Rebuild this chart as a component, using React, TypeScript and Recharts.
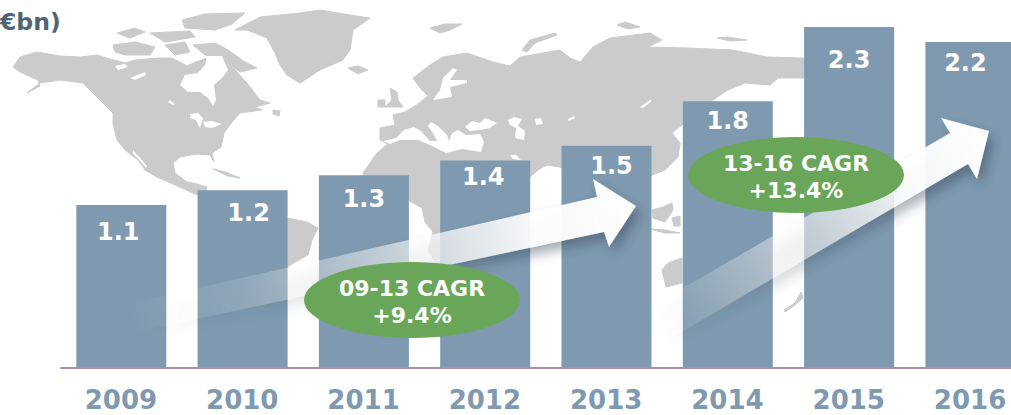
import { BarChart, Bar, XAxis, YAxis, LabelList } from 'recharts';

const YEARS = ['2009', '2010', '2011', '2012', '2013', '2014', '2015', '2016'];
const REVENUE = [1.1, 1.2, 1.3, 1.4, 1.5, 1.8, 2.3, 2.2];

const FONT = '"DejaVu Sans", Verdana, sans-serif';
const BAR_COLOR = '#7f9ab0';
const LAND = '#cbcbcd';
const GREEN = '#6aa659';

// the value labels are not placed consistently in the source, nudge each [dx, dy from bar top]
const LABEL_NUDGE = [[-3, 26], [6, 22], [0, 23], [-2, 16], [5, 20], [0, 19], [0, 32], [-5, 20]];

const data = YEARS.map((year, i) => ({ year, value: REVENUE[i] }));

// rough hand traced world map, only used as backdrop
const LAND_SHAPES = [
  // north america
  '13,67 20,57 37,52 60,56 80,57 97,55 110,59 125,63 135,60 147,59 160,58 172,58 180,62 187,66 196,62 207,58 222,60 235,70 247,83 260,100 270,103 255,107 262,110 240,113 232,122 224,133 221,147 212,153 214,162 210,155 197,154 180,157 173,163 175,173 187,182 197,184 207,187 205,195 197,195 173,184 157,177 145,170 138,160 125,150 117,140 113,123 113,113 97,97 83,83 60,80 40,83 27,93 40,86 38,80 20,72',
  // arctic islands
  '193,45 215,43 228,50 245,62 257,68 240,72 225,62 205,55',
  '113,45 135,42 155,47 150,55 125,55 115,52',
  '117,33 135,28 145,32 130,38',
  '182,20 205,14 245,13 232,24 215,30 185,28',
  '150,33 190,31 195,37 165,42',
  '165,45 185,42 190,52 175,55',
  '273,110 280,111 279,116 273,114',
  '213,169 225,172 240,178 228,176',
  // greenland, iceland, svalbard, uk
  '235,30 260,17 300,13 320,10 350,15 370,18 353,30 350,50 343,60 320,70 300,83 287,75 280,65 275,53 267,38 247,30',
  '348,68 358,66 368,70 358,74',
  '430,28 445,24 462,24 450,30 440,33',
  '390,88 397,92 398,100 403,107 385,107 392,100',
  '378,100 385,100 385,107 378,107',
  // eurasia with africa
  '380,140 380,128 395,125 393,115 405,112 418,104 428,96 420,88 413,78 430,65 443,57 467,53 493,62 510,66 520,57 560,50 570,58 580,62 593,47 610,38 650,33 662,40 648,47 687,48 733,50 767,57 800,58 860,60 860,75 803,78 778,78 770,85 745,83 728,90 713,100 700,110 682,125 672,133 680,143 678,157 665,170 652,175 640,185 600,190 560,167 547,165 538,170 529,178 520,230 500,300 440,300 437,265 428,250 433,232 425,222 422,208 408,200 367,190 363,173 377,153 388,144',
  // south america, only the part beside the 2011 bar shows
  '250,205 287,218 307,222 318,228 312,240 308,255 295,262 287,267 260,310 240,260',
  // islands
  '522,50 530,40 555,33 557,35 535,43 527,52',
  '617,25 625,22 640,27 628,29',
  '717,38 728,37 747,40 730,41',
  '652,210 663,207 672,203 673,210 665,222 653,218',
  '650,229 665,230 680,233 665,233',
  '672,218 680,216 680,226 674,226',
  '682,258 668,263 662,270 666,287 682,283',
  '803,298 795,305 785,312 784,310 795,303 801,292',
];

const WATER_SHAPES = [
  // hudson bay
  '207,56 222,56 228,70 222,78 214,85 216,100 213,106 208,98 200,92 188,92 180,85 185,75 198,73 205,65',
  // lakes and inlets in north america
  '190,114 198,113 203,118 200,128 196,120 190,118',
  '203,122 212,121 222,124 212,128 205,127',
  '115,66 125,64 128,67 118,70',
  '130,78 145,72 146,75 135,80',
  '170,100 175,104 173,105 168,102',
  '133,150 147,166 146,168 133,153',
  // mediterranean
  '383,141 396,138 404,130 414,127 421,131 430,141 437,141 433,133 428,126 431,122 438,126 447,135 449,141 452,133 458,130 466,135 480,134 484,142 481,152 462,149 446,153 432,146 418,140 400,140 390,144',
  // black sea, caspian, aral etc
  '465,127 472,121 480,123 485,118 497,123 490,128 480,130 470,131',
  '508,120 514,117 522,119 518,126 525,131 524,140 515,138 516,128 510,125',
  '535,119 541,118 543,124 536,125',
  '568,119 574,116 575,118 569,121',
  '640,107 650,100 652,101 643,108',
  '510,155 516,155 521,160 513,159',
  // baltic
  '440,90 443,78 453,68 457,70 450,80 467,80 467,83 450,87 452,97 433,100',
];

function WorldMap() {
  return (
    <svg width={1011} height={415} style={{ position: 'absolute', left: 0, top: 0 }}>
      <g fill={LAND} stroke={LAND} strokeWidth={1} strokeLinejoin="round">
        {LAND_SHAPES.map((pts, i) => <polygon key={i} points={pts} />)}
      </g>
      <g fill="#ffffff">
        {WATER_SHAPES.map((pts, i) => <polygon key={i} points={pts} />)}
      </g>
    </svg>
  );
}

function ValueLabel(props: any) {
  const { x, y, width, value, index } = props;
  const [dx, dy] = LABEL_NUDGE[index];
  return (
    <text
      x={x + width / 2 + dx}
      y={y + dy}
      dy="0.36em"
      textAnchor="middle"
      fill="#ffffff"
      fontFamily={FONT}
      fontWeight={700}
      fontSize={24}
    >
      {value.toFixed(1)}
    </text>
  );
}

function Oval({ cx, cy, lines }: { cx: number; cy: number; lines: string[] }) {
  return (
    <g>
      <ellipse cx={cx} cy={cy} rx={108} ry={38} fill={GREEN} />
      <text x={cx} y={cy - 12} dy="0.36em" textAnchor="middle" fill="#fff" fontFamily={FONT} fontWeight={700} fontSize={22}>
        {lines[0]}
      </text>
      <text x={cx} y={cy + 15} dy="0.36em" textAnchor="middle" fill="#fff" fontFamily={FONT} fontWeight={700} fontSize={22}>
        {lines[1]}
      </text>
    </g>
  );
}

function Overlay() {
  return (
    <svg width={1011} height={415} style={{ position: 'absolute', left: 0, top: 0 }}>
      <defs>
        <linearGradient id="arrowA" gradientUnits="userSpaceOnUse" x1={110} y1={323} x2={636} y2={206}>
          <stop offset="0.04" stopColor="#fff" stopOpacity={0} />
          <stop offset="0.25" stopColor="#fff" stopOpacity={0.13} />
          <stop offset="0.55" stopColor="#fff" stopOpacity={0.55} />
          <stop offset="0.8" stopColor="#fff" stopOpacity={0.92} />
          <stop offset="1" stopColor="#fff" stopOpacity={1} />
        </linearGradient>
        <linearGradient id="arrowB" gradientUnits="userSpaceOnUse" x1={622} y1={344} x2={989} y2={131}>
          <stop offset="0.08" stopColor="#fff" stopOpacity={0} />
          <stop offset="0.2" stopColor="#fff" stopOpacity={0.12} />
          <stop offset="0.5" stopColor="#fff" stopOpacity={0.5} />
          <stop offset="0.8" stopColor="#fff" stopOpacity={0.92} />
          <stop offset="1" stopColor="#fff" stopOpacity={1} />
        </linearGradient>
        <filter id="arrowShadow" x="-10%" y="-20%" width="125%" height="150%">
          <feDropShadow dx={5} dy={7} stdDeviation={6} floodColor="#2c3e50" floodOpacity={0.45} />
        </filter>
      </defs>
      <polygon
        points="110,308 597,197 593,179 636,206 609,247 604,232 107,338"
        fill="url(#arrowA)"
        filter="url(#arrowShadow)"
      />
      <polygon
        points="625,322 950,133 941,118 989,131 977,179 968,164 625,365"
        fill="url(#arrowB)"
        filter="url(#arrowShadow)"
      />
      <Oval cx={412} cy={300} lines={['09-13 CAGR', '+9.4%']} />
      <Oval cx={796} cy={175} lines={['13-16 CAGR', '+13.4%']} />
    </svg>
  );
}

export default function App() {
  return (
    <div style={{ position: 'absolute', left: 0, top: 0, width: 1011, height: 415, overflow: 'hidden', background: '#fff' }}>
      <WorldMap />
      <div style={{ position: 'absolute', left: 0, top: 0 }}>
        {/* plot runs past the page on the right, the last bar is cut off in the source */}
        <BarChart
          width={1040}
          height={415}
          data={data}
          margin={{ top: 12.3, right: 9.3, bottom: 0, left: 60.3 }}
          barSize={90}
        >
          <XAxis
            dataKey="year"
            height={47}
            interval={0}
            tickLine={false}
            axisLine={{ stroke: '#a78fb3', strokeWidth: 2 }}
            tickMargin={17}
            tick={{ fill: BAR_COLOR, fontSize: 26, fontWeight: 700, fontFamily: FONT }}
          />
          <YAxis hide domain={[0, 2.4]} />
          <Bar dataKey="value" fill={BAR_COLOR} isAnimationActive={false}>
            <LabelList dataKey="value" content={ValueLabel} />
          </Bar>
        </BarChart>
      </div>
      <Overlay />
      <svg width={120} height={50} style={{ position: 'absolute', left: 0, top: 0 }}>
        <text x={0} y={30} fill="#4f6577" fontFamily={FONT} fontWeight={700} fontSize={23.5}>
          €bn)
        </text>
      </svg>
    </div>
  );
}
